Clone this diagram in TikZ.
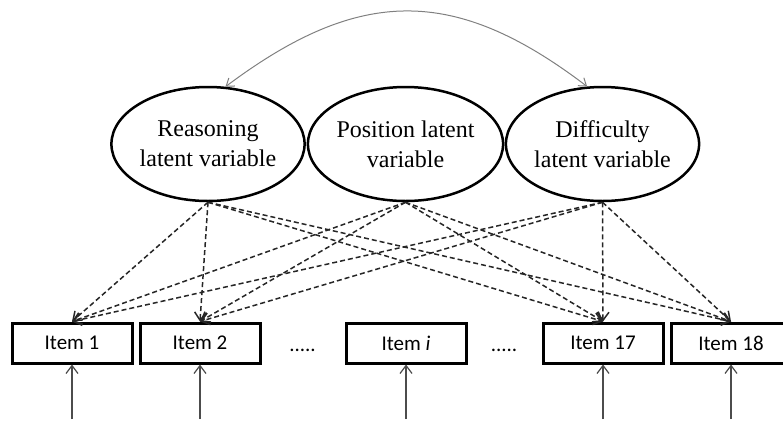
\documentclass[tikz,border=0pt]{standalone}
\usepackage{fontspec}
\setmainfont{Liberation Serif}
\newfontfamily\boxfont{Carlito}
\usetikzlibrary{shapes.geometric,arrows.meta}

\begin{document}
\begin{tikzpicture}[x=1pt,y=-1pt,
		latent/.style={ellipse, draw, line width=2.5pt, minimum width=190pt, minimum height=114pt, inner sep=0pt, align=center, font=\fontsize{24}{30}\selectfont},
		item/.style={draw, line width=3pt, minimum width=120pt, minimum height=40pt, inner sep=0pt, font=\boxfont\fontsize{21}{25}\selectfont},
		load/.style={dash pattern=on 5pt off 3pt, line width=1.5pt, black!85, -{Straight Barb[length=8pt,width=12pt]}},
		err/.style={line width=1.2pt, black!70, -{Straight Barb[length=8pt,width=12pt]}}]
			\useasboundingbox (0,0) rectangle (783,421);
			\clip (0,0) rectangle (783,421);
			\node[latent] (rl) at (208,144) {Reasoning\\latent variable};
			\node[latent] (pl) at (405.5,144) {Position latent\\variable};
			\node[latent] (dl) at (602.5,144) {Difficulty\\latent variable};
			\node[item] (i1) at (72,343) {Item 1};
			\node[item] (i2) at (200,343) {Item 2};
			\node[item] (ii) at (406,343) {Item \textit{i}};
			\node[item] (i17) at (603,343) {Item 17};
			\node[item] (i18) at (731,343) {Item 18};
			\node[font=\boxfont\fontsize{21}{25}\selectfont] (d1) at (302.5,350) {.....};
			\node[font=\boxfont\fontsize{21}{25}\selectfont] (d2) at (504,350) {.....};
			\draw[gray, line width=1pt, {Straight Barb[length=7pt,width=10pt]}-{Straight Barb[length=7pt,width=10pt]}]
				(rl.73) .. controls (360,-14) and (455,-14) .. (dl.105);
			\foreach \src in {rl,pl,dl}
				\foreach \dst in {i1,i2,i17,i18}
					\draw[load] (\src.south) -- (\dst.north);
			\foreach \n in {i1,i2,ii,i17,i18} {
				\coordinate (e\n) at (\n.south |- 0,419);
				\draw[err] (e\n) -- (\n.south);
			}
		\end{tikzpicture}
\end{document}
